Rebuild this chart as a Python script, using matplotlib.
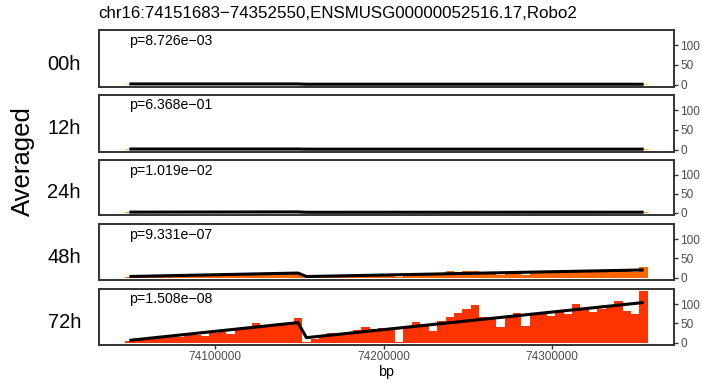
import numpy as np
import matplotlib
matplotlib.use('Agg')
import matplotlib.pyplot as plt

plt.rcParams['font.family'] = ['Liberation Sans', 'DejaVu Sans']

title = "chr16:74151683\u221274352550,ENSMUSG00000052516.17,Robo2"
timepoints = ['00h', '12h', '24h', '48h', '72h']
pvalues = ['p=8.726e\u221203', 'p=6.368e\u221201', 'p=1.019e\u221202',
           'p=9.331e\u221207', 'p=1.508e\u221208']
bar_colors = ['#FFE866', '#FFC933', '#FF9900', '#FF6600', '#FF3300']

# 62 bins of 5 kb
bin_start = 74049200
bin_width = 5000
n_bins = 62
bin_centers = bin_start + bin_width * np.arange(n_bins)

cov_00h = [1.2, 0.6, 0.5, 0.6, 0.5, 0.6, 0.5, 0.6, 0.7, 0.5, 0.6, 0.5, 0.6, 0.5, 0.6, 0.7,
           0.6, 0.5, 0.6, 0.7, 0.6, 0.2, 0.4, 0.5, 0.4, 0.5, 0.4, 0.5, 0.6, 0.5, 0.4, 0.5,
           0.2, 0.5, 0.6, 0.5, 0.4, 0.5, 0.6, 0.5, 0.6, 0.7, 0.5, 0.5, 0.4, 0.5, 0.6, 0.4,
           0.5, 0.6, 0.5, 0.6, 0.5, 0.6, 0.6, 0.5, 0.6, 0.6, 0.7, 0.6, 0.5, 1.4]
cov_12h = [0.8, 0.6, 0.5, 0.6, 0.5, 0.6, 0.5, 0.6, 0.7, 0.5, 0.6, 0.5, 0.6, 0.5, 0.6, 0.7,
           0.6, 0.5, 0.6, 0.7, 0.6, 0.2, 0.4, 0.5, 0.4, 0.5, 0.4, 0.5, 0.6, 0.5, 0.4, 0.5,
           0.2, 0.5, 0.6, 0.5, 0.4, 0.5, 0.6, 0.5, 0.6, 0.7, 0.5, 0.5, 0.4, 0.5, 0.6, 0.4,
           0.5, 0.6, 0.5, 0.6, 0.5, 0.6, 0.6, 0.5, 0.6, 0.6, 0.7, 0.6, 0.5, 1.2]
cov_24h = [1.5, 0.8, 0.9, 1.0, 0.9, 1.0, 1.1, 1.0, 1.1, 0.9, 1.2, 1.1, 1.0, 1.2, 1.3, 1.6,
           1.4, 1.5, 1.6, 1.5, 1.8, 0.3, 0.6, 0.7, 0.8, 0.8, 0.9, 0.9, 1.0, 1.0, 1.0, 1.1,
           0.3, 1.1, 1.2, 1.2, 0.9, 1.2, 1.5, 1.4, 1.6, 1.6, 1.3, 1.3, 1.0, 1.4, 1.4, 1.1,
           1.5, 1.5, 1.5, 1.6, 1.5, 1.7, 1.6, 1.5, 1.6, 1.7, 1.8, 1.6, 1.5, 2.5]
cov_48h = [3, 3, 3, 4, 4, 4, 5, 5, 6, 5, 6, 7, 6, 8, 8, 12, 12, 11, 10, 11, 13,
           1, 3, 4, 4, 5, 5, 6, 6, 7, 7, 7, 1, 8, 9, 9, 6, 10, 17, 16, 18, 18,
           12, 11, 6, 12, 12, 7, 14, 14, 14, 18, 15, 17, 17, 15, 16, 17, 19, 17, 16, 27]
cov_72h = [4, 7, 9, 10, 12, 14, 16, 19, 21, 18, 25, 28, 22, 33, 36, 50, 42, 44, 51, 52, 64,
           1, 10, 17, 24, 24, 25, 34, 41, 36, 37, 38, 2, 42, 54, 49, 30, 55, 66, 77, 87, 97,
           66, 64, 40, 68, 76, 44, 72, 73, 70, 79, 75, 101, 89, 80, 86, 95, 107, 82, 75, 133]
coverage = [cov_00h, cov_12h, cov_24h, cov_48h, cov_72h]

# fitted line: values at bins 0, 20 (before break), 21 (after break), 61
fit_bins = [0, 20, 21, 61]
fit_00h = [1.8, 1.8, 1.0, 1.0]
fit_12h = [1.6, 1.6, 1.2, 1.2]
fit_24h = [1.6, 2.2, 1.2, 1.4]
fit_48h = [3, 12, 3, 20]
fit_72h = [6, 52, 13, 104]
fits = [fit_00h, fit_12h, fit_24h, fit_48h, fit_72h]

xticks = [74100000, 74200000, 74300000]
yticks = [0, 50, 100]

W, H = 702, 383
fig = plt.figure(figsize=(W / 100, H / 100), dpi=100)

left_px, right_px = 99, 674
tops = [30, 95, 160, 224, 289]
bottoms = [87, 152, 215, 280, 345]

for i, tp in enumerate(timepoints):
    ax = fig.add_axes([left_px / W, 1 - bottoms[i] / H,
                       (right_px - left_px) / W, (bottoms[i] - tops[i]) / H])
    ax.bar(bin_centers, coverage[i], width=bin_width, color=bar_colors[i], linewidth=0)
    ax.plot(bin_centers[fit_bins], fits[i], color='black', lw=2.2, solid_capstyle='butt')
    ax.set_xlim(74031200, 74372200)
    ax.set_ylim(-6, 139)
    ax.yaxis.tick_right()
    ax.set_yticks(yticks)
    ax.set_yticklabels([str(v) for v in yticks])
    for s in ax.spines.values():
        s.set_color('#333333')
        s.set_linewidth(1.4)
    ax.tick_params(direction='out', length=3, width=1, color='#333333',
                   labelsize=8.5, labelcolor='#4d4d4d', pad=1.5)
    if i < len(timepoints) - 1:
        ax.set_xticks([])
    else:
        ax.set_xticks(xticks)
        ax.set_xticklabels([str(v) for v in xticks])
        ax.set_xlabel('bp', fontsize=10.3, labelpad=1)
    h_px = bottoms[i] - tops[i]
    ax.text((129.5 - left_px) / (right_px - left_px), 1 - 14.5 / h_px, pvalues[i],
            transform=ax.transAxes, fontsize=10.2, ha='left', va='baseline')
    center = (tops[i] + bottoms[i]) / 2
    fig.text(81 / W, 1 - (center + 11) / H, tp, fontsize=14.5, ha='right', va='baseline')

fig.text(22.5 / W, 1 - 161 / H, 'Averaged', fontsize=18.5, rotation=90,
         ha='center', va='center')
fig.text(98 / W, 1 - 18.5 / H, title, fontsize=12.2, ha='left', va='baseline')

fig.savefig('out.png', dpi=100)
